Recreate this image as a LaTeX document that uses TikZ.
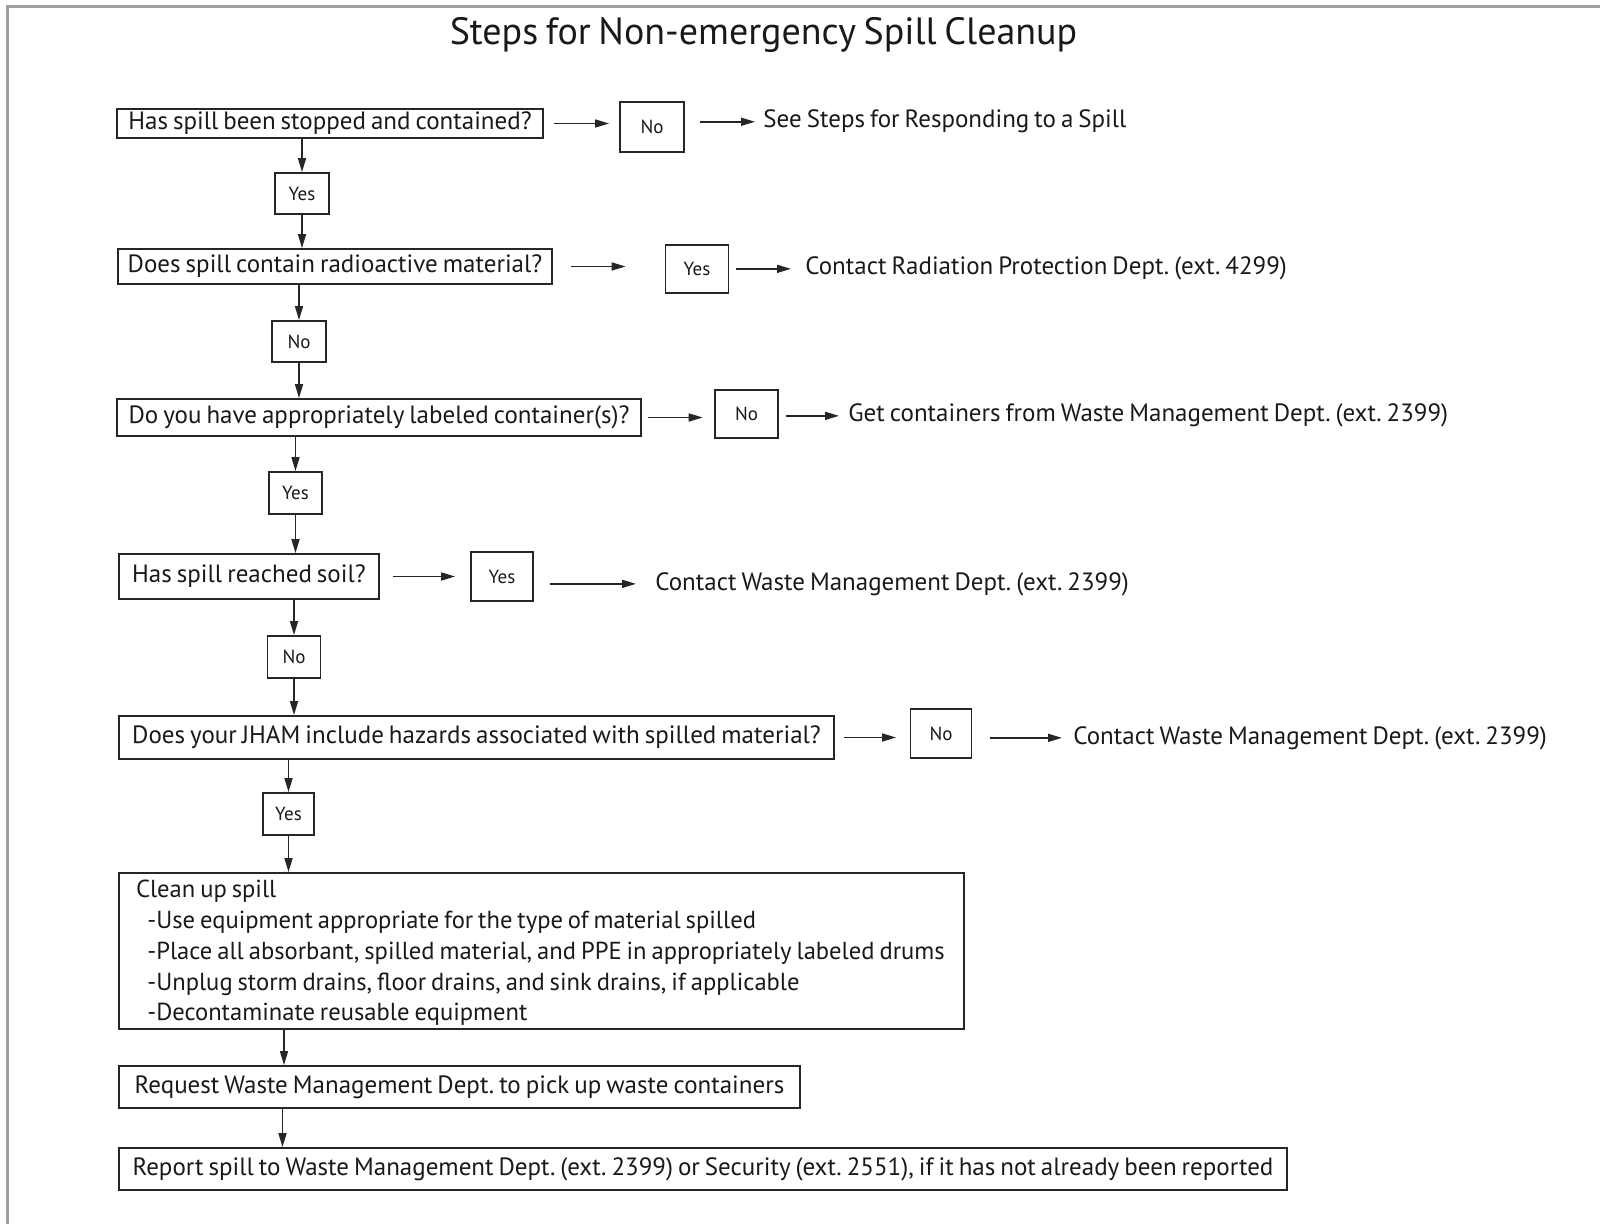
\documentclass[tikz,border=0pt]{standalone}
\usepackage{fontspec}
\setmainfont[WordSpace=0.75]{PT Sans}
\usetikzlibrary{arrows.meta,fit}
\frenchspacing

\begin{document}
\begin{tikzpicture}[x=0.5pt,y=-0.5pt,
    box/.style={draw=black!85, line width=0.9pt, inner sep=0pt, text=black!90,
      font=\fontsize{12.5}{15}\selectfont},
    ans/.style={box, font=\fontsize{9.5}{11}\selectfont},
    lbl/.style={anchor=base west, inner sep=0pt, text=black!90,
      font=\fontsize{12.5}{15}\selectfont},
    arr/.style={draw=black!85, line width=0.8pt, -{Triangle[length=7pt,width=4pt]}}]
	\useasboundingbox (0,0) rectangle (1600,1224);

	% frame and title
	\draw[gray!75, line width=1.5pt] (7.6,1224) -- (7.6,7) -- (1600,7);
	\node[anchor=base, inner sep=0pt, text=black!90, font=\fontsize{19}{22}\selectfont] (title) at (763.5,45) {Steps for Non-emergency Spill Cleanup};

	% Step 1: stopped and contained
	\node[box, minimum width=213pt, minimum height=14.5pt] (q1) at (330,123.5) {Has spill been stopped and contained?};
	\node[ans, minimum width=32pt, minimum height=25pt] (a1) at (652,127) {No};
	\node[lbl] (t1) at (763,128) {See Steps for Responding to a Spill};
	\node[ans, minimum width=27pt, minimum height=20.5pt] (y1) at (302,193.5) {Yes};
	\draw[arr, shorten <=5pt, shorten >=5pt] (q1.east) -- (q1.east -| a1.west);
	\draw[arr, shorten <=7.5pt, shorten >=4pt] (t1.west -| a1.east) -- (t1.west);
	\draw[arr] (q1.south -| y1.north) -- (y1.north);

	% Step 2: radioactive material
	\node[box, minimum width=217pt, minimum height=17.5pt] (q2) at (335,266.5) {Does spill contain radioactive material?};
	\node[ans, minimum width=31.5pt, minimum height=24pt] (a2) at (697,269) {Yes};
	\node[lbl] (t2) at (805,275) {Contact Radiation Protection Dept. (ext. 4299)};
	\node[ans, minimum width=27pt, minimum height=20.5pt] (n2) at (299,341.5) {No};
	\draw[arr] (y1.south) -- (y1.south |- q2.north);
	\draw[arr, shorten <=9pt, shorten >=19.5pt] (q2.east) -- (q2.east -| a2.west);
	\draw[arr, shorten <=3.5pt, shorten >=7pt] (t2.west -| a2.east) -- (t2.west);
	\draw[arr] (q2.south -| n2.north) -- (n2.north);

	% Step 3: labeled containers
	\node[box, minimum width=262pt, minimum height=18.5pt] (q3) at (379,417.5) {Do you have appropriately labeled container(s)?};
	\node[ans, minimum width=31.5pt, minimum height=24pt] (a3) at (746.5,414) {No};
	\node[lbl] (t3) at (848,422) {Get containers from Waste Management Dept. (ext. 2399)};
	\node[ans, minimum width=26.5pt, minimum height=21pt] (y3) at (295.5,493) {Yes};
	\draw[arr] (n2.south) -- (n2.south |- q3.north);
	\draw[arr, shorten <=3.25pt, shorten >=5.7pt] (q3.east) -- (q3.east -| a3.west);
	\draw[arr, shorten <=3.5pt, shorten >=4.5pt] (t3.west -| a3.east) -- (t3.west);
	\draw[arr] (q3.south -| y3.north) -- (y3.north);

	% Step 4: soil
	\node[box, minimum width=130pt, minimum height=22.5pt] (q4) at (249,576.5) {Has spill reached soil?};
	\node[ans, minimum width=31pt, minimum height=24.5pt] (a4) at (502,576.5) {Yes};
	\node[lbl] (t4) at (655,590) {Contact Waste Management Dept. (ext. 2399)};
	\node[ans, minimum width=26.5pt, minimum height=21pt] (n4) at (294,657) {No};
	\draw[arr] (y3.south) -- (y3.south |- q4.north);
	\draw[arr, shorten <=6.5pt, shorten >=7.5pt] (q4.east) -- (q4.east -| a4.west);
	\draw[arr, shorten <=8.25pt, shorten >=9.5pt] (t4.west -| a4.east) -- (t4.west);
	\draw[arr] (q4.south -| n4.north) -- (n4.north);

	% Step 5: JHAM
	\node[box, minimum width=357.5pt, minimum height=21.5pt] (q5) at (476.5,737.5) {Does your JHAM include hazards associated with spilled material?};
	\node[ans, minimum width=30.5pt, minimum height=24.5pt] (a5) at (941,733.5) {No};
	\node[lbl] (t5) at (1073,744) {Contact Waste Management Dept. (ext. 2399)};
	\node[ans, minimum width=25.5pt, minimum height=21pt] (y5) at (288.5,814) {Yes};
	\draw[arr] (n4.south) -- (n4.south |- q5.north);
	\draw[arr, shorten <=4.75pt, shorten >=6.75pt] (q5.east) -- (q5.east -| a5.west);
	\draw[arr, shorten <=9pt, shorten >=5.5pt] (t5.west -| a5.east) -- (t5.west);
	\draw[arr] (q5.south -| y5.north) -- (y5.north);

	% Cleanup and reporting
	\node[box, fit={(119,873) (964,1029)}] (clean) {};
	\node[anchor=west, inner sep=0pt, align=left, text=black!90, font=\fontsize{12.3}{15.35}\selectfont] (cleantxt) at (135.6,953) {Clean up spill\\
	  \hspace*{5.7pt}-Use equipment appropriate for the type of material spilled\\
	  \hspace*{5.7pt}-Place all absorbant, spilled material, and PPE in appropriately labeled drums\\
	  \hspace*{5.7pt}-Unplug storm drains, floor drains, and sink drains, if applicable\\
	  \hspace*{5.7pt}-Decontaminate reusable equipment};
	\node[box, minimum width=340.5pt, minimum height=21pt] (req) at (459.5,1087) {Request Waste Management Dept. to pick up waste containers};
	\node[box, minimum width=584pt, minimum height=21pt] (rep) at (703,1169) {Report spill to Waste Management Dept. (ext. 2399) or Security (ext. 2551), if it has not already been reported};
	\draw[arr] (y5.south) -- (y5.south |- clean.north);
	\draw[arr] (clean.south -| 284,0) -- (req.north -| 284,0);
	\draw[arr] (req.south -| 282.5,0) -- (rep.north -| 282.5,0);
\end{tikzpicture}
\end{document}
